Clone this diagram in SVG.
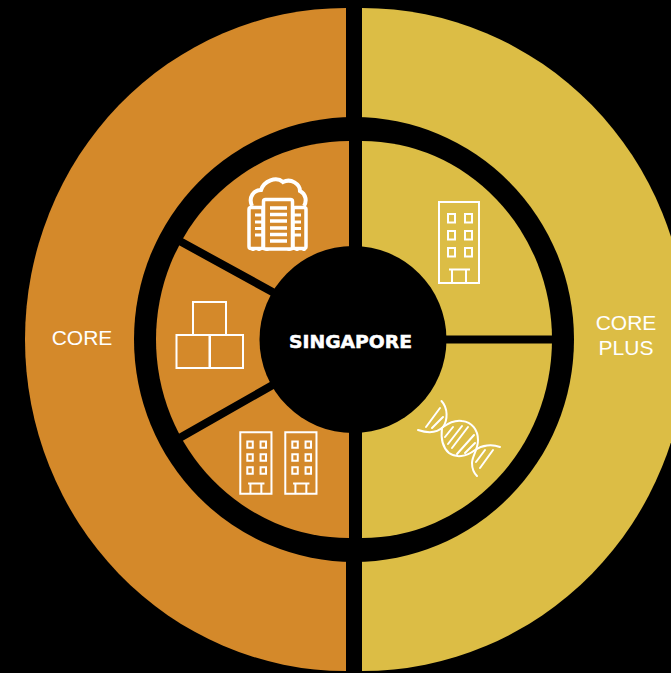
<svg xmlns="http://www.w3.org/2000/svg" width="671" height="673" viewBox="0 0 671 673">
<style>
.ln{fill:none;stroke:#fff;stroke-width:2;vector-effect:non-scaling-stroke}
.lab{font-family:"Liberation Sans",Arial,sans-serif;font-size:21px;fill:#fff;text-anchor:middle}
.div{stroke:#000;stroke-width:8;fill:none}
</style>
<defs>
<g id="tower">
<rect x="1" y="1" width="40" height="81" class="ln"/>
<rect x="10" y="13" width="7" height="8.500" class="ln"/><rect x="27" y="13" width="7" height="8.500" class="ln"/>
<rect x="10" y="30" width="7" height="8.500" class="ln"/><rect x="27" y="30" width="7" height="8.500" class="ln"/>
<rect x="10" y="47" width="7" height="8.500" class="ln"/><rect x="27" y="47" width="7" height="8.500" class="ln"/>
<path class="ln" d="M11 68.500H32M14 68.500V82M28 68.500V82"/>
</g>
</defs>
<rect width="671" height="673" fill="#000"/>
<g id="ring-core"><path d="M346 8A321 331.500 0 0 0 346 671Z" fill="#d4892a"/></g>
<g id="ring-core-plus"><path d="M362 8A325 331.500 0 0 1 362 671Z" fill="#dcbd45"/></g>
<g id="hub-ring"><ellipse cx="354" cy="339.500" rx="220" ry="222.500" fill="#000"/></g>
<g id="inner-left"><path d="M349 141A193 198.500 0 0 0 349 538Z" fill="#d4892a"/></g>
<g id="inner-right"><path d="M362 141A190 198.500 0 0 1 362 538Z" fill="#dcbd45"/></g>
<g id="connectors">
<path class="div" d="M176 239L278 295M176 440L278 382M440 339.500H556"/>
</g>
<g id="center"><circle cx="353" cy="339.500" r="93.500" fill="#000"/>
<text x="350.500" y="348" font-family="'DejaVu Sans',sans-serif" font-weight="700" font-size="18" fill="#fff" stroke="#fff" stroke-width=".5" text-anchor="middle" textLength="123" lengthAdjust="spacingAndGlyphs">SINGAPORE</text></g>
<g id="label-core"><text class="lab" x="82" y="345">CORE</text></g>
<g id="label-core-plus"><text class="lab" x="626" y="330">CORE</text><text class="lab" x="626" y="355">PLUS</text></g>
<g id="icon-cloud" fill="none" stroke="#fff">
<path d="M252 206C248 197 254 190 261 190C264 181 276 176 283 182C291 178 300 184 300 191C306 194 307 201 304 206" stroke-width="4"/>
<rect x="249" y="207.500" width="14" height="41" rx="2" stroke-width="3.500"/>
<rect x="293" y="207.500" width="13" height="41" rx="2" stroke-width="3.500"/>
<rect x="263.500" y="199.500" width="29" height="49.500" rx="2" stroke-width="3.500" fill="#d4892a"/>
<path d="M270 208H287M270 214.500H287M270 221H287M270 228H287M270 234.500H287M270 241H287" stroke-width="3.600"/>
<path d="M255 215H262M255 222H262M255 228.500H262M255 235H262M294 215H301M294 222H301M294 228.500H301M294 235H301" stroke-width="3.200"/>
<path d="M253 249V251M259 249V251M267 249V251M289 249V251M297 249V251M304 249V251" stroke-width="3"/>
</g>
<g id="icon-boxes" class="ln">
<rect x="193" y="302" width="33" height="33" class="ln"/><rect x="176.500" y="335" width="33" height="33" class="ln"/><rect x="210" y="335" width="33" height="33" class="ln"/>
</g>
<g id="icon-towers-left">
<use href="#tower" transform="translate(239.500,431.500) scale(.78,.76)"/>
<use href="#tower" transform="translate(284.500,431.500) scale(.78,.76)"/>
</g>
<g id="icon-tower-right"><use href="#tower" transform="translate(438,201)"/></g>
<g id="icon-dna" fill="none" stroke="#fff" stroke-width="2" stroke-linecap="round">
<path d="M441.500 401C448 408 448 420 443 427C436 434 427 433 418 430"/>
<path d="M443 427C450 422 456 420 462 421C472 422 478 430 478 440C478 450 472 456 472 463C472 468 474 473 477 476"/>
<path d="M442 428C441 436 442 447 449 453C456 458 466 457 475 450C482 445 492 444 500 447"/>
<path d="M440 408L426 427M443 417L432 428M453 427L445 437M462 426L448 444M468 427L452 448M474 435L457 454M475 443L465 453M485 450L476 462M493 450L480 468"/>
</g>
</svg>
